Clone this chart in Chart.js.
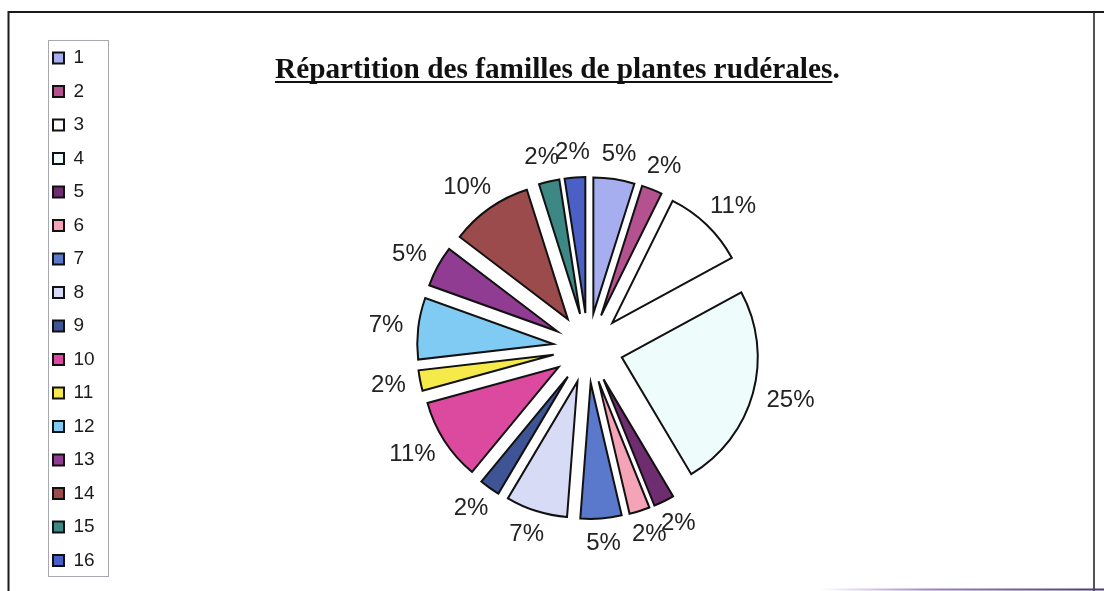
<!DOCTYPE html>
<html>
<head>
<meta charset="utf-8">
<script src="https://cdn.jsdelivr.net/npm/chart.js@4.4.1/dist/chart.umd.min.js"></script>
<style>
  html, body { margin: 0; padding: 0; background: #ffffff; }
  #wrap { width: 1104px; height: 591px; position: relative; }
  canvas { display: block; }
</style>
</head>
<body>
<div id="wrap"><canvas id="chart" width="1104" height="591"></canvas></div>
<script>
// ---- Data ----
const categories = ['1','2','3','4','5','6','7','8','9','10','11','12','13','14','15','16'];
// relative slice sizes
const familyCounts = [2, 1, 4, 10, 1, 1, 2, 3, 1, 4, 1, 3, 2, 4, 1, 1];
// percentage labels as printed on the chart
const percentLabels = ['5%','2%','11%','25%','2%','2%','5%','7%','2%','11%','2%','7%','5%','10%','2%','2%'];
const sliceColors = ['#a6aef0','#b3528e','#ffffff','#effcfc','#6e2d6e','#f5a3b6','#5a78cc','#d7dbf6',
                     '#3f5494','#dc4aa0','#f6ea4a','#80cbf3','#903c92','#9c4b4c','#3d8884','#4b60c6'];
const chartTitle = 'Répartition des familles de plantes rudérales';

const EXPLODE = 35;      // explosion distance of each slice
const PIE_RADIUS = 136;
const TITLE_BAND = 71;   // vertical band reserved above the pie

// title as a layout box (reserves space above the chart area, draws the underlined title)
const titleBoxPlugin = {
  id: 'titleBox',
  start(chart) {
    const box = {
      position: 'top', fullSize: false, weight: 0, options: {},
      top: 0, left: 0, right: 0, bottom: 0, width: 0, height: 0,
      isHorizontal() { return true; },
      update(maxWidth) { this.width = maxWidth; this.height = TITLE_BAND; },
      draw() {
        const ctx = chart.ctx;
        ctx.save();
        ctx.font = 'bold 29.3px "Liberation Serif", "Times New Roman", serif';
        ctx.fillStyle = '#111111';
        ctx.textAlign = 'left';
        ctx.textBaseline = 'alphabetic';
        const x0 = 275, base = 78;
        ctx.fillText(chartTitle, x0, base);
        const w = ctx.measureText(chartTitle).width;
        ctx.fillText('.', x0 + w, base);
        ctx.fillRect(x0, base + 3, w, 2);
        ctx.restore();
      }
    };
    Chart.layouts.addBox(chart, box);
  }
};

// shift every arc outward along its bisector (Excel-style exploded pie)
const explodePlugin = {
  id: 'explode',
  afterDatasetsUpdate(chart) {
    const meta = chart.getDatasetMeta(0);
    meta.data.forEach(arc => {
      if (arc._exploded) return;
      const mid = (arc.startAngle + arc.endAngle) / 2;
      arc.x += Math.cos(mid) * EXPLODE;
      arc.y += Math.sin(mid) * EXPLODE;
      arc._exploded = true;
    });
  }
};

const labelPlugin = {
  id: 'pctLabels',
  afterDatasetsDraw(chart) {
    const ctx = chart.ctx;
    const meta = chart.getDatasetMeta(0);
    ctx.save();
    ctx.font = '24px "Liberation Sans", Arial, sans-serif';
    ctx.fillStyle = '#222222';
    ctx.textAlign = 'center';
    ctx.textBaseline = 'middle';
    meta.data.forEach((arc, i) => {
      const mid = (arc.startAngle + arc.endAngle) / 2;
      const c = Math.cos(mid), s = Math.sin(mid);
      const txt = percentLabels[i];
      const w = ctx.measureText(txt).width, h = 20;
      const r0 = arc.outerRadius + 15;
      const x = arc.x + c * r0 + c * w / 2;
      const y = arc.y + s * r0 + s * h / 2;
      ctx.fillText(txt, x, y);
    });
    ctx.restore();
  }
};

const framePlugin = {
  id: 'frame',
  beforeDraw(chart) {
    const ctx = chart.ctx;
    ctx.save();
    ctx.fillStyle = '#ffffff';
    ctx.fillRect(0, 0, chart.width, chart.height);
    // outer frame
    ctx.strokeStyle = '#1a1a1a';
    ctx.lineWidth = 2;
    ctx.beginPath();
    ctx.moveTo(8.5, 591); ctx.lineTo(8.5, 12); ctx.lineTo(1104, 12);
    ctx.stroke();
    ctx.lineWidth = 1.5;
    ctx.beginPath();
    ctx.moveTo(1094, 12); ctx.lineTo(1094, 591);
    ctx.stroke();
    const g = ctx.createLinearGradient(820, 0, 1104, 0);
    g.addColorStop(0, 'rgba(160,130,200,0)');
    g.addColorStop(0.4, '#9a80c8');
    g.addColorStop(1, '#4a3a78');
    ctx.strokeStyle = g;
    ctx.lineWidth = 2;
    ctx.beginPath();
    ctx.moveTo(820, 589.5); ctx.lineTo(1104, 589.5);
    ctx.stroke();
    // legend box
    ctx.strokeStyle = '#a8a8b0';
    ctx.lineWidth = 1;
    ctx.strokeRect(48.5, 40.5, 60, 536);
    ctx.restore();
  }
};

new Chart(document.getElementById('chart'), {
  type: 'pie',
  data: {
    labels: categories,
    datasets: [{
      data: familyCounts,
      backgroundColor: sliceColors,
      borderColor: '#111111',
      borderWidth: 2,
      borderJoinStyle: 'miter',
      offset: 0,
      hoverOffset: 0
    }]
  },
  options: {
    responsive: false,
    animation: false,
    events: [],
    radius: PIE_RADIUS,
    layout: { padding: { top: 34, bottom: 0, left: 38.5, right: 32.6 } },
    plugins: {
      title: { display: false },
      tooltip: { enabled: false },
      legend: {
        display: true,
        position: 'left',
        align: 'start',
        labels: {
          boxWidth: 11,
          boxHeight: 11,
          padding: 14.5,
          color: '#1a1a1a',
          font: { family: '"Liberation Sans", Arial, sans-serif', size: 19 }
        }
      }
    }
  },
  plugins: [titleBoxPlugin, explodePlugin, labelPlugin, framePlugin]
});
</script>
</body>
</html>
